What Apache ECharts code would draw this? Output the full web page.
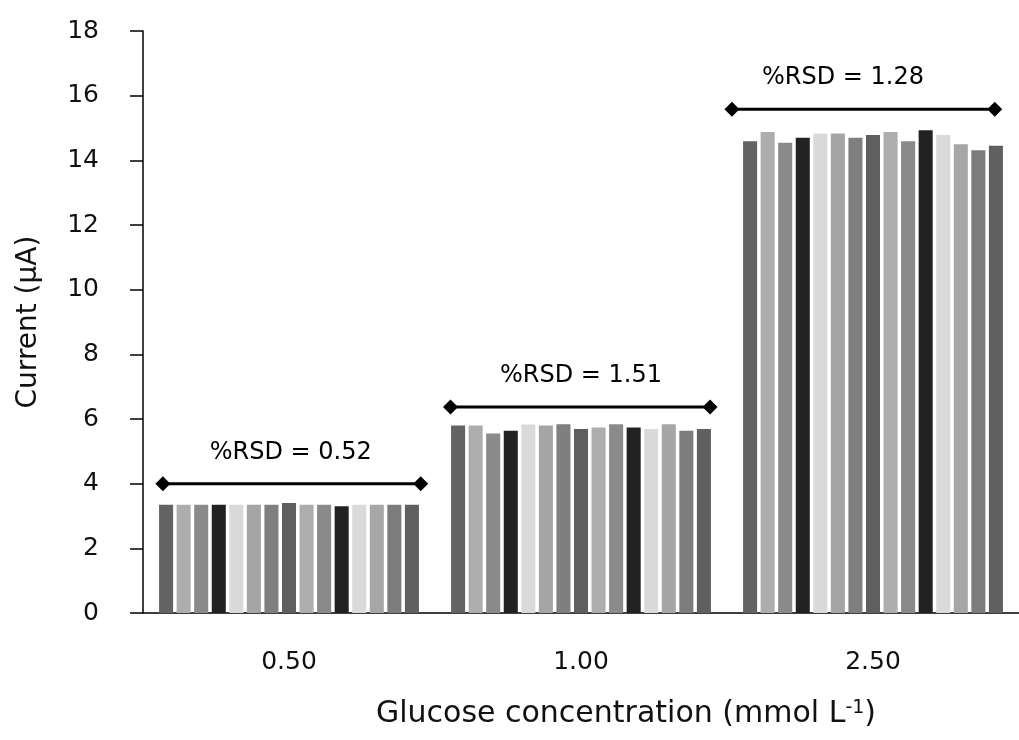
<!DOCTYPE html>
<html>
<head>
<meta charset="utf-8">
<script src="https://cdn.jsdelivr.net/npm/echarts@6/dist/echarts.min.js"></script>
<style>
  html, body { margin: 0; padding: 0; background: #fff; }
  #chart { width: 1019px; height: 740px; }
</style>
</head>
<body>
<div id="chart"></div>
<script>
// glucose levels on the x axis
const categories = ['0.50', '1.00', '2.50']

// current (µA) of the 15 repeated measurements at each level
const run050 = [3.35, 3.35, 3.35, 3.35, 3.35, 3.35, 3.35, 3.40, 3.35, 3.35, 3.30, 3.35, 3.35, 3.35, 3.35]
const run100 = [5.80, 5.80, 5.55, 5.64, 5.83, 5.80, 5.84, 5.69, 5.74, 5.84, 5.74, 5.69, 5.84, 5.64, 5.69]
const run250 = [14.59, 14.88, 14.54, 14.70, 14.83, 14.83, 14.70, 14.78, 14.88, 14.59, 14.93, 14.78, 14.50, 14.31, 14.45]

// %RSD brackets: level, start/end along the category band (0..3), label position
const rsdLevel = [4.0, 6.37, 15.58]
const rsdStart = [0.068, 1.053, 2.017]
const rsdEnd = [0.951, 1.942, 2.917]
const rsdLabelX = [0.506, 1.5, 2.397]
const rsdText = ['%RSD = 0.52', '%RSD = 1.51', '%RSD = 1.28']

const yTicks = { min: 0, max: 18, step: 2 }

const barColors = ['#636363', '#adadad', '#8a8a8a', '#222222', '#d9d9d9', '#a5a5a5', '#7f7f7f', '#5f5f5f',
  '#adadad', '#8a8a8a', '#222222', '#dadada', '#a6a6a6', '#7c7c7c', '#606060']

const font = 'DejaVu Sans'
const chart = echarts.init(document.getElementById('chart'))

const barSeries = run050.map((_, i) => ({
  name: 'run ' + (i + 1),
  type: 'bar',
  barGap: '25%',
  barCategoryGap: '11%',
  itemStyle: { color: barColors[i] },
  data: [run050[i], run100[i], run250[i]]
}))

const rsdSeries = rsdLevel.map((lvl, i) => ({
  type: 'line',
  xAxisIndex: 1,
  symbol: 'diamond',
  symbolSize: 15,
  lineStyle: { color: '#000', width: 3 },
  itemStyle: { color: '#000' },
  data: [[rsdStart[i], lvl], [rsdEnd[i], lvl]],
  z: 5
}))

const labelSeries = {
  type: 'scatter',
  xAxisIndex: 1,
  symbolSize: 0,
  itemStyle: { color: '#000', opacity: 1 },
  label: {
    show: true,
    position: 'top',
    distance: 19,
    color: '#000',
    opacity: 1,
    textBorderWidth: 0,
    fontFamily: font,
    fontSize: 24,
    formatter: p => rsdText[p.dataIndex]
  },
  data: rsdLevel.map((lvl, i) => [rsdLabelX[i], lvl])
}

chart.setOption({
  animation: false,
  grid: { left: 143, right: -8, top: 31, bottom: 127 },
  xAxis: [
    {
      type: 'category',
      data: categories,
      axisLine: { lineStyle: { color: '#000', width: 1.5 } },
      axisTick: { length: 14, lineStyle: { color: '#000', width: 1.5 } },
      axisLabel: { margin: 37, color: '#111', fontFamily: font, fontSize: 25 },
      name: 'Glucose concentration (mmol L{sup|-1})',
      nameLocation: 'middle',
      nameGap: 86,
      nameTextStyle: {
        color: '#111',
        fontFamily: font,
        fontSize: 30,
        padding: [0, 0, 0, 90],
        rich: { sup: { fontFamily: font, fontSize: 19, verticalAlign: 'top', padding: [0, 0, 12, 0], color: '#111' } }
      }
    },
    { type: 'value', min: 0, max: 3, show: false }
  ],
  yAxis: {
    type: 'value',
    min: yTicks.min,
    max: yTicks.max,
    interval: yTicks.step,
    splitLine: { show: false },
    axisLine: { show: true, lineStyle: { color: '#000', width: 1.5 } },
    axisTick: { show: true, length: 13, lineStyle: { color: '#000', width: 1.5 } },
    axisLabel: { margin: 44, color: '#111', fontFamily: font, fontSize: 25 },
    name: 'Current (µA)',
    nameLocation: 'middle',
    nameGap: 100,
    nameTextStyle: { color: '#111', fontFamily: font, fontSize: 28 }
  },
  series: [...barSeries, ...rsdSeries, labelSeries]
})
</script>
</body>
</html>
